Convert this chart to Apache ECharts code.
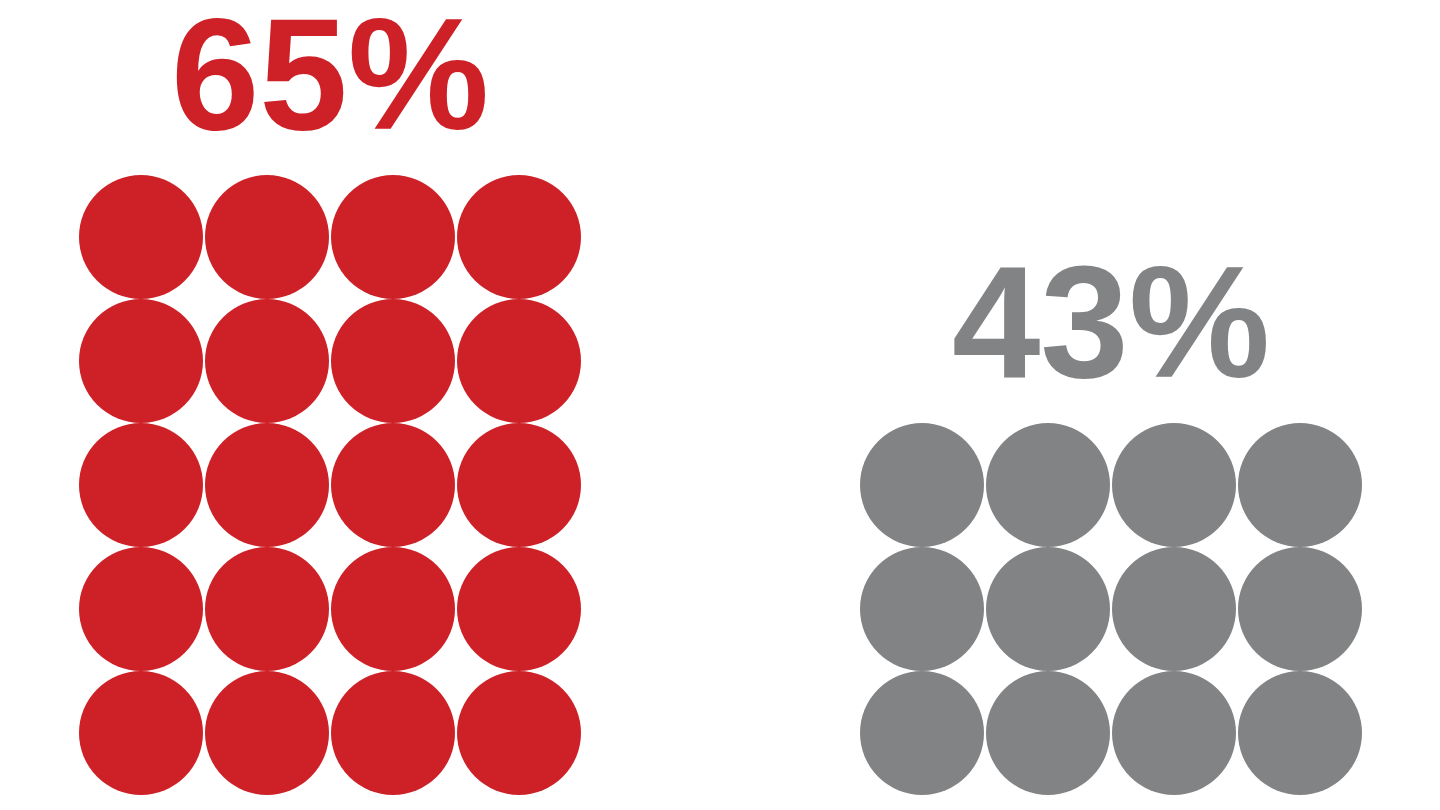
<!DOCTYPE html>
<html>
<head>
<meta charset="utf-8">
<script src="https://cdn.jsdelivr.net/npm/echarts@6/dist/echarts.min.js"></script>
<style>html,body{margin:0;padding:0;background:#fff;}#c{width:1440px;height:810px;}</style>
</head>
<body>
<div id="c"></div>
<script>
// Data
const groupLabels = ['65%', '43%'];
const groupValues = [65, 43];
const groupRows = [5, 3];
const groupCols = [4, 4];
const groupColors = ['#CE2127', '#828385'];

const chart = echarts.init(document.getElementById('c'), null, {renderer: 'canvas'});

const gridLefts = [78, 859];
const grids = [], xAxes = [], yAxes = [], series = [];
groupLabels.forEach((lab, g) => {
  grids.push({left: gridLefts[g], width: 504, top: 51, bottom: 15, containLabel: false});
  xAxes.push({type: 'value', gridIndex: g, min: -0.5, max: 3.5, show: false});
  yAxes.push({type: 'value', gridIndex: g, min: 0.5, max: 6.5, show: false});
  const pts = [];
  for (let r = 1; r <= groupRows[g]; r++) {
    for (let c = 0; c < groupCols[g]; c++) pts.push([c, r]);
  }
  series.push({
    type: 'scatter', xAxisIndex: g, yAxisIndex: g,
    symbol: 'circle', symbolSize: 124,
    itemStyle: {color: groupColors[g], opacity: 1},
    data: pts, silent: true
  });
  series.push({
    type: 'scatter', xAxisIndex: g, yAxisIndex: g,
    symbolSize: 1, itemStyle: {opacity: 0},
    data: [{value: [(groupCols[g] - 1) / 2, groupRows[g] + 1.225], name: lab, pct: groupValues[g]}],
    label: {
      show: true, position: 'inside', formatter: lab,
      fontFamily: 'Liberation Sans', fontWeight: 'bold', fontSize: 159,
      color: groupColors[g], opacity: 1
    },
    silent: true
  });
});

chart.setOption({
  animation: false,
  backgroundColor: '#ffffff',
  grid: grids, xAxis: xAxes, yAxis: yAxes, series: series
});
</script>
</body>
</html>
